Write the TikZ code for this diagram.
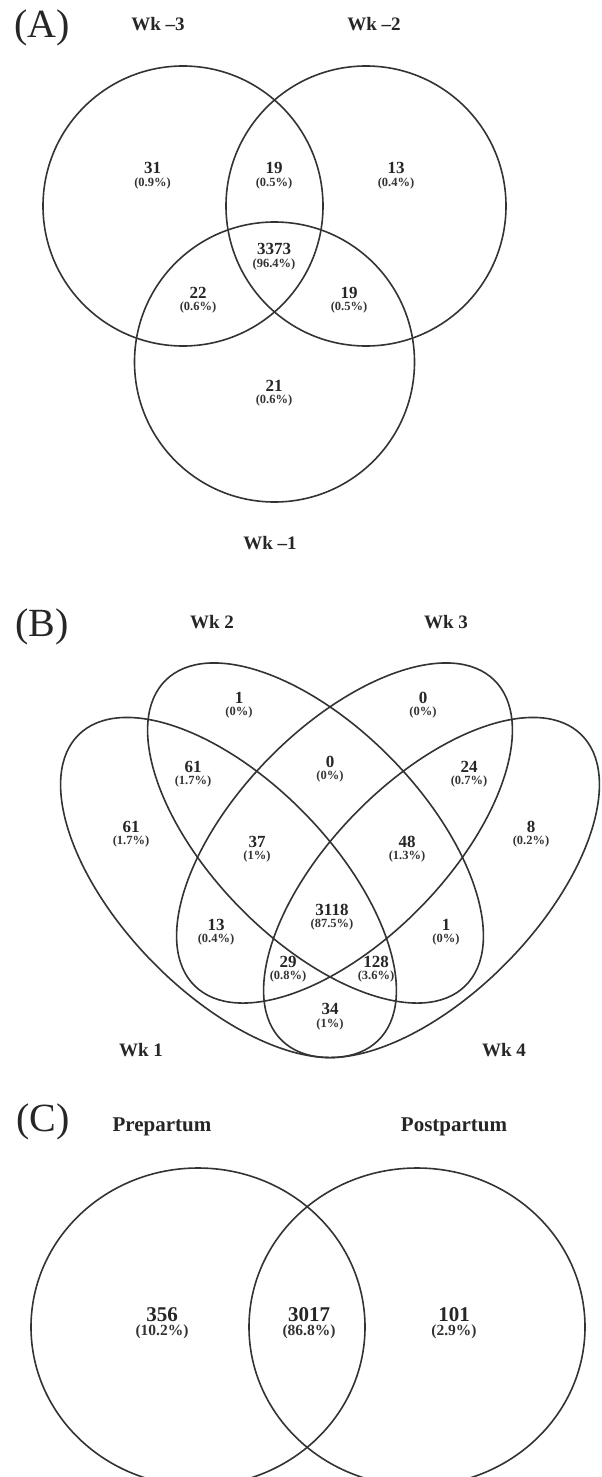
\documentclass[tikz,border=0pt]{standalone}
\usepackage{fontspec}
\setmainfont{Liberation Serif}
\begin{document}
\begin{tikzpicture}[x=1pt,y=-1pt,
  venn/.style={draw=black!80, line width=1.6pt},
  panel/.style={font=\fontsize{40}{40}\selectfont, text=black!85, inner sep=0pt},
  setlab/.style={font=\bfseries\fontsize{19}{19}\selectfont, text=black!85, inner sep=0pt},
  setlabC/.style={font=\bfseries\fontsize{21}{21}\selectfont, text=black!85, inner sep=0pt},
  cnt/.style={font=\bfseries\fontsize{17}{17}\selectfont, text=black!85, inner sep=0pt},
  pct/.style={font=\bfseries\fontsize{12.5}{12.5}\selectfont, text=black!80, inner sep=0pt},
  cntC/.style={font=\bfseries\fontsize{21}{21}\selectfont, text=black!85, inner sep=0pt},
  pctC/.style={font=\bfseries\fontsize{15.5}{15.5}\selectfont, text=black!80, inner sep=0pt}]
\useasboundingbox (0,0) rectangle (602,1477);
\fill[white] (0,0) rectangle (602,1477);

% ---------------- Panel A ----------------
\node[panel] (pA) at (42,28) {(A)};
\node[setlab] (lA1) at (158,24) {Wk –3};
\node[setlab] (lA2) at (374,24) {Wk –2};
\node[setlab] (lA3) at (270,543) {Wk –1};
\draw[venn] (183,206) circle[radius=140pt];
\draw[venn] (366,206) circle[radius=140pt];
\draw[venn] (274.5,362) circle[radius=140pt];
\node[cnt] (a1) at (152.5,168) {31};   \node[pct] (a1p) at (152.5,183) {(0.9\%)};
\node[cnt] (a2) at (274,168) {19};     \node[pct] (a2p) at (274,183) {(0.5\%)};
\node[cnt] (a3) at (396,168) {13};     \node[pct] (a3p) at (396,183) {(0.4\%)};
\node[cnt] (a4) at (274,249) {3373};   \node[pct] (a4p) at (274,264) {(96.4\%)};
\node[cnt] (a5) at (198,293) {22};     \node[pct] (a5p) at (198,307) {(0.6\%)};
\node[cnt] (a6) at (349,293) {19};     \node[pct] (a6p) at (349,307) {(0.5\%)};
\node[cnt] (a7) at (274,386) {21};     \node[pct] (a7p) at (274,400) {(0.6\%)};

% ---------------- Panel B ----------------
\node[panel] (pB) at (42,627) {(B)};
\node[setlab] (lB2) at (212,622) {Wk 2};
\node[setlab] (lB3) at (446,622) {Wk 3};
\node[setlab] (lB1) at (141,1050) {Wk 1};
\node[setlab] (lB4) at (504,1050) {Wk 4};
\draw[venn, rotate around={-45.6:(228.5,887.5)}] (228.5,887.5) ellipse[x radius=214pt, y radius=106.3pt];
\draw[venn, rotate around={-45.6:(315.5,833)}] (315.5,833) ellipse[x radius=214pt, y radius=106.3pt];
\draw[venn, rotate around={45.6:(344.5,833)}] (344.5,833) ellipse[x radius=214pt, y radius=106.3pt];
\draw[venn, rotate around={45.6:(431.5,887.5)}] (431.5,887.5) ellipse[x radius=214pt, y radius=106.3pt];
\node[cnt] (b1) at (239,698) {1};      \node[pct] (b1p) at (239,712) {(0\%)};
\node[cnt] (b2) at (423,698) {0};      \node[pct] (b2p) at (423,712) {(0\%)};
\node[cnt] (b3) at (193,767) {61};     \node[pct] (b3p) at (193,781) {(1.7\%)};
\node[cnt] (b4) at (330,762) {0};      \node[pct] (b4p) at (330,776) {(0\%)};
\node[cnt] (b5) at (469,767) {24};     \node[pct] (b5p) at (469,781) {(0.7\%)};
\node[cnt] (b6) at (131,827) {61};     \node[pct] (b6p) at (131,841) {(1.7\%)};
\node[cnt] (b7) at (257,842) {37};     \node[pct] (b7p) at (257,856) {(1\%)};
\node[cnt] (b8) at (407,842) {48};     \node[pct] (b8p) at (407,856) {(1.3\%)};
\node[cnt] (b9) at (531,827) {8};      \node[pct] (b9p) at (531,841) {(0.2\%)};
\node[cnt] (b10) at (332,910) {3118};  \node[pct] (b10p) at (332,924) {(87.5\%)};
\node[cnt] (b11) at (216,925) {13};    \node[pct] (b11p) at (216,939) {(0.4\%)};
\node[cnt] (b12) at (446,925) {1};     \node[pct] (b12p) at (446,939) {(0\%)};
\node[cnt] (b13) at (288,962) {29};    \node[pct] (b13p) at (288,976) {(0.8\%)};
\node[cnt] (b14) at (376,962) {128};   \node[pct] (b14p) at (376,976) {(3.6\%)};
\node[cnt] (b15) at (330,1009) {34};   \node[pct] (b15p) at (330,1024) {(1\%)};

% ---------------- Panel C ----------------
\node[panel] (pC) at (43,1122) {(C)};
\node[setlabC] (lC1) at (162,1127) {Prepartum};
\node[setlabC] (lC2) at (454,1127) {Postpartum};
\draw[venn] (198,1327) ellipse[x radius=167pt, y radius=159pt];
\draw[venn] (417,1327) ellipse[x radius=168pt, y radius=159pt];
\node[cntC] (c1) at (162,1315) {356};   \node[pctC] (c1p) at (162,1332) {(10.2\%)};
\node[cntC] (c2) at (309,1315) {3017};  \node[pctC] (c2p) at (309,1332) {(86.8\%)};
\node[cntC] (c3) at (454,1315) {101};   \node[pctC] (c3p) at (454,1332) {(2.9\%)};
\end{tikzpicture}
\end{document}
